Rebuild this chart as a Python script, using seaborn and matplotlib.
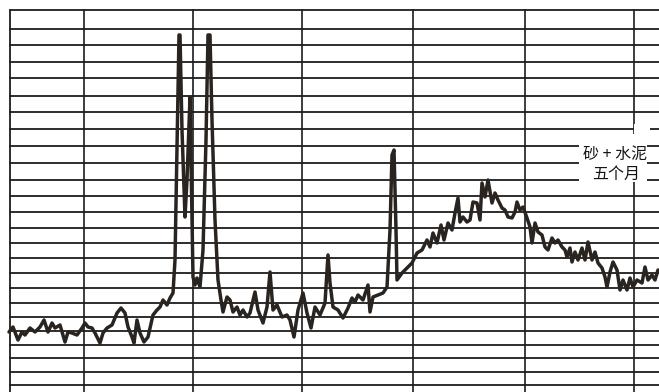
import matplotlib
matplotlib.use("Agg")
import matplotlib.pyplot as plt
from matplotlib.patches import Rectangle
import numpy as np
import pandas as pd
import seaborn as sns

sns.set_style("white")
plt.rcParams["font.family"] = ["Noto Sans CJK SC", "DejaVu Sans"]

# Recorder trace: scan position (chart divisions) and detector intensity
scan_pos = [
    9, 13, 18, 22, 25, 30, 35, 40, 44, 48, 52, 55, 60, 65, 68, 72, 77, 82, 85, 88,
    92, 95, 100, 103, 107, 112, 117, 121, 125, 128, 132, 134, 137, 140, 144, 148,
    153, 157, 160, 163, 167, 170, 173,
    175, 177, 179, 180, 182, 185, 187, 190, 191, 193, 195, 197, 200, 203, 206, 208,
    210, 212, 215, 218, 221, 223,
    227, 230, 233, 237, 240, 243, 247, 250, 255, 258, 263, 267, 270, 273, 277, 282,
    287, 290, 294, 298, 303, 307, 311, 315, 320, 325, 328, 330, 333, 338, 343, 348,
    352, 355, 358, 363, 368, 370, 373, 378, 383, 387, 390, 392, 394, 396, 397, 402,
    407, 412, 417, 422, 427, 430, 433, 437, 441, 444, 448, 452, 455, 458, 460, 463,
    467, 470, 473, 477, 480, 482, 485, 488, 492, 495, 498, 502, 505, 508, 512, 515,
    517, 520, 523, 527, 530, 532, 535, 538, 542, 545, 548, 552, 555, 558, 562, 565,
    567, 570, 572, 575, 578, 582, 585, 588, 592, 595, 598, 602, 605, 607, 610, 613,
    617, 620, 623, 627, 630, 633, 637, 642, 645, 648, 652, 655, 658,
]
trace_height = [
    332, 327, 340, 332, 335, 328, 332, 327, 320, 332, 323, 328, 325, 342, 332, 333,
    335, 328, 323, 327, 328, 333, 343, 333, 328, 325, 313, 308, 313, 327, 337, 343,
    320, 333, 342, 337, 315, 310, 307, 300, 305, 298, 293,
    260, 150, 35, 35, 130, 217, 180, 97, 160, 277, 285, 278, 287, 250, 140, 35,
    35, 120, 220, 280, 300, 312,
    297, 300, 312, 307, 315, 310, 317, 313, 292, 310, 323, 307, 272, 310, 305, 317,
    315, 320, 337, 310, 293, 313, 328, 307, 315, 303, 255, 283, 307, 310, 318, 308,
    298, 302, 295, 300, 285, 312, 297, 295, 293, 287, 230, 155, 150, 230, 280, 273,
    268, 263, 253, 250, 240, 247, 233, 243, 225, 240, 223, 230, 213, 198, 222, 217,
    222, 220, 202, 203, 220, 183, 197, 180, 203, 193, 200, 208, 210, 217, 218, 212,
    202, 210, 207, 218, 227, 243, 223, 232, 235, 247, 250, 238, 243, 240, 247, 250,
    257, 248, 262, 252, 260, 248, 260, 242, 260, 252, 263, 268, 277, 287, 272, 262,
    270, 290, 280, 290, 278, 287, 280, 283, 267, 280, 275, 280, 270,
]
# chart-paper rulings
h_rules = [10, 29, 45, 62, 78, 96, 112, 129, 146, 163, 180, 196, 212, 228, 243,
           258, 273, 288, 303, 317, 331, 345, 358, 372, 385]
v_rules = [84, 193, 302, 413, 525, 634]
label_lines = ["砂 + 水泥", "五个月"]

W, H = 659, 392
df = pd.DataFrame({"pos": scan_pos, "height": trace_height})

fig = plt.figure(figsize=(W / 100, H / 100), dpi=100)
ax = fig.add_axes([0, 0, 1, 1])

rule_col = "#1c1c1c"
for y in h_rules:
    ax.plot([10, W], [y, y], color=rule_col, lw=1.3, zorder=1)
for x in v_rules:
    ax.plot([x, x], [10, H], color=rule_col, lw=1.2, zorder=1)
ax.plot([10, 10], [10, H], color=rule_col, lw=1.3, zorder=1)

# paper left blank around the handwritten note
ax.add_patch(Rectangle((579, 134), 68, 47, facecolor="white", edgecolor="none", zorder=2))
ax.add_patch(Rectangle((634, 124), 16, 12, facecolor="white", edgecolor="none", zorder=2))
ax.add_patch(Rectangle((592, 156), 50, 26, facecolor="white", edgecolor="none", zorder=2))

sns.lineplot(data=df, x="pos", y="height", ax=ax, color="#2a2420", lw=2.5,
             sort=False, estimator=None, zorder=3)
ax.set_xlim(0, W)
ax.set_ylim(H, 0)
ax.set_axis_off()

ax.text(615, 154, label_lines[0], ha="center", va="center", fontsize=11.5,
        color="#151515", zorder=4)
ax.text(616, 174, label_lines[1], ha="center", va="center", fontsize=11.5,
        color="#151515", zorder=4)

fig.savefig("out.png", dpi=100, facecolor="white")
